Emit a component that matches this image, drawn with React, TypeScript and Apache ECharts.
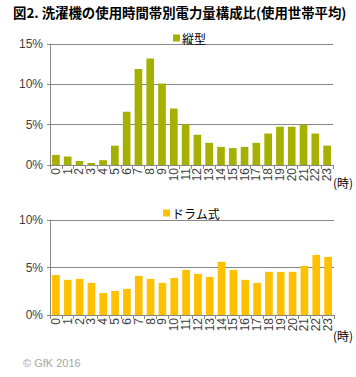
import React, { useEffect, useRef } from "react";
import * as echarts from "echarts";

const hours = Array.from({ length: 24 }, (_, i) => String(i));
const verticalValues = [1.25, 1.05, 0.5, 0.25, 0.6, 2.4, 6.6, 11.9, 13.2, 10.1, 7.0, 5.05, 3.75, 2.75, 2.25, 2.1, 2.25, 2.75, 3.9, 4.75, 4.75, 5.0, 3.9, 2.4];
const drumValues = [4.2, 3.7, 3.8, 3.38, 2.32, 2.53, 2.75, 4.12, 3.8, 3.38, 3.9, 4.75, 4.33, 4.01, 5.6, 4.75, 3.7, 3.38, 4.54, 4.54, 4.54, 5.17, 6.33, 6.12];
const topTicks = [0, 5, 10, 15];
const bottomTicks = [0, 5, 10];

const titleText = "図2. 洗濯機の使用時間帯別電力量構成比(使用世帯平均)";
const GRID = "#868686";
const LABEL = "#404040";
const FONT = "'Liberation Sans', Arial, sans-serif";
const JP = "'Noto Sans CJK JP', sans-serif";

export default function App() {
  const ref = useRef<HTMLDivElement>(null);
  useEffect(() => {
    if (!ref.current) return;
    const chart = echarts.init(ref.current, null, { renderer: "svg" });
    const xAxisBase = (gridIndex: number) => ({
      type: "category" as const,
      gridIndex,
      data: hours,
      boundaryGap: true,
      axisLine: { lineStyle: { color: GRID, width: 1 } },
      axisTick: { show: true, length: 4, alignWithLabel: false, lineStyle: { color: GRID } },
      axisLabel: { rotate: 90, interval: 0, fontSize: 12, color: LABEL, fontFamily: FONT, margin: 3 },
    });
    const yAxisBase = (gridIndex: number, max: number) => ({
      type: "value" as const,
      gridIndex,
      min: 0,
      max,
      interval: 5,
      axisLine: { show: true, lineStyle: { color: GRID } },
      axisTick: { show: true, length: 3, lineStyle: { color: GRID } },
      splitLine: { lineStyle: { color: GRID, width: 1 } },
      axisLabel: { formatter: "{value}%", fontSize: 12, color: LABEL, fontFamily: FONT, margin: 7 },
    });
    chart.setOption({
      animation: false,
      backgroundColor: "#ffffff",
      title: {
        text: titleText,
        left: 13,
        top: 5,
        padding: 0,
        textStyle: { fontSize: 13.4, fontWeight: "bold", color: "#000", fontFamily: JP },
      },
      legend: [
        {
          data: ["縦型"],
          left: 168,
          top: 27,
          icon: "rect",
          itemWidth: 7,
          itemHeight: 7,
          itemGap: 2,
          textStyle: { fontSize: 12, color: "#000", fontFamily: JP, padding: [0, 0, 0, -3] },
        },
        {
          data: ["ドラム式"],
          left: 158,
          top: 202,
          icon: "rect",
          itemWidth: 7,
          itemHeight: 7,
          textStyle: { fontSize: 12, color: "#000", fontFamily: JP, padding: [0, 0, 0, -3] },
        },
      ],
      grid: [
        { left: 50, top: 44, width: 283, height: 121 },
        { left: 50, top: 220, width: 284, height: 95 },
      ],
      xAxis: [xAxisBase(0), xAxisBase(1)],
      yAxis: [yAxisBase(0, topTicks[topTicks.length - 1]), yAxisBase(1, bottomTicks[bottomTicks.length - 1])],
      series: [
        {
          name: "縦型",
          type: "bar",
          xAxisIndex: 0,
          yAxisIndex: 0,
          data: verticalValues,
          barCategoryGap: "35%",
          itemStyle: { color: "#A5B000" },
        },
        {
          name: "ドラム式",
          type: "bar",
          xAxisIndex: 1,
          yAxisIndex: 1,
          data: drumValues,
          barCategoryGap: "35%",
          itemStyle: { color: "#FFC000" },
        },
      ],
      graphic: [
        { type: "text", left: 333, top: 176, style: { text: "(時)", fontSize: 12, fill: "#000", fontFamily: JP } },
        { type: "text", left: 333, top: 329, style: { text: "(時)", fontSize: 12, fill: "#000", fontFamily: JP } },
        { type: "text", left: 23, top: 357, style: { text: "© GfK 2016", fontSize: 11, fill: "#a6a6a6", fontFamily: FONT } },
      ],
    });
    return () => chart.dispose();
  }, []);
  return <div ref={ref} style={{ position: "absolute", left: 0, top: 0, width: 356, height: 377 }} />;
}
